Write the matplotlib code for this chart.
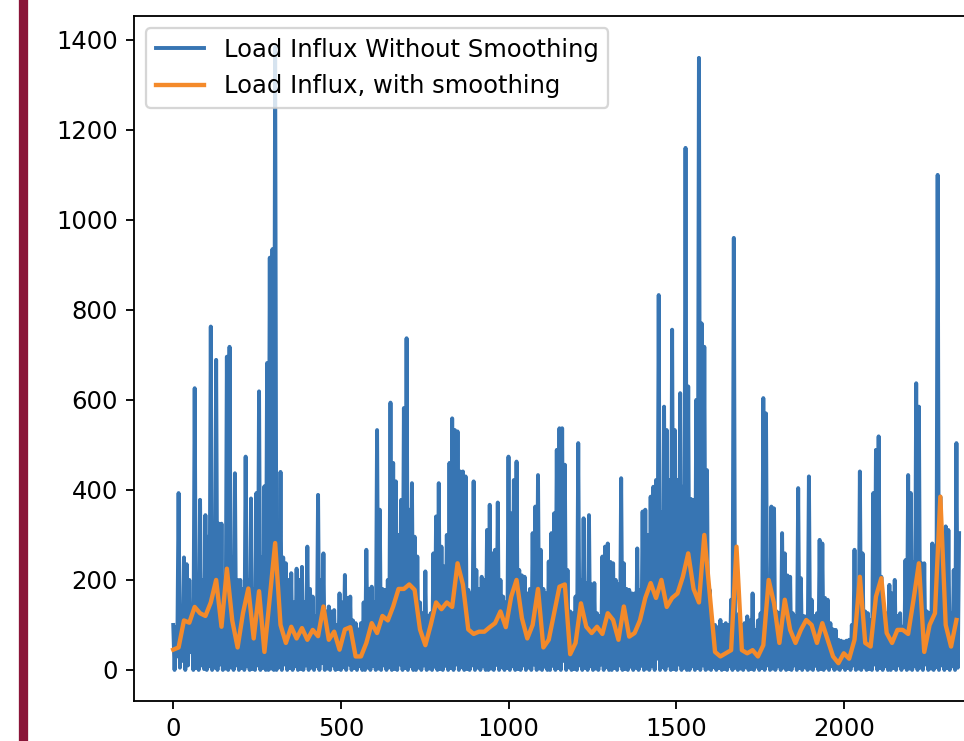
import numpy as np
import matplotlib.pyplot as plt
from matplotlib.patches import Rectangle

plt.rcParams['font.size'] = 10.6

# raw load influx: the signal jumps between a peak and a
# near-zero trough every few samples, so it is kept as two lists
raw_step = 4
raw_peaks = [  # every 8 samples, starting at 0
    100, 95, 393, 140, 250, 235, 200, 100, 626, 150, 378, 200, 344, 296, 763, 250, 689, 325, 325, 200, 696, 718, 250, 437, 200,
    200, 180, 474, 200, 381, 180, 393, 619, 250, 408, 682, 916, 935, 1384, 300, 440, 250, 237, 200, 215, 150, 225, 200, 229, 150,
    274, 180, 163, 120, 389, 200, 259, 130, 141, 130, 133, 100, 170, 150, 211, 160, 163, 110, 104, 90, 104, 150, 267, 180, 185,
    150, 533, 356, 180, 178, 200, 594, 460, 419, 300, 378, 582, 737, 356, 415, 296, 252, 150, 126, 219, 120, 126, 259, 341, 415,
    274, 230, 300, 460, 559, 533, 530, 441, 441, 430, 178, 170, 419, 222, 180, 207, 200, 311, 367, 259, 267, 372, 200, 163, 150,
    474, 348, 422, 463, 222, 210, 207, 170, 180, 304, 363, 433, 267, 180, 170, 241, 304, 348, 489, 537, 537, 456, 222, 130, 126,
    163, 504, 200, 337, 193, 344, 190, 193, 126, 120, 252, 274, 281, 240, 237, 200, 190, 426, 237, 180, 178, 170, 170, 270, 178,
    352, 356, 300, 385, 407, 422, 833, 350, 585, 533, 422, 756, 533, 422, 615, 407, 1160, 630, 380, 378, 600, 1360, 770, 718, 444,
    178, 100, 100, 95, 111, 100, 104, 100, 156, 960, 120, 126, 100, 104, 119, 110, 170, 89, 110, 126, 604, 570, 200, 363, 359,
    130, 126, 304, 259, 210, 207, 126, 120, 404, 204, 120, 119, 430, 156, 120, 126, 289, 281, 160, 156, 104, 90, 89, 67, 65,
    63, 65, 67, 100, 267, 126, 441, 259, 130, 126, 111, 393, 489, 519, 207, 130, 126, 189, 170, 200, 120, 126, 96, 244, 433,
    393, 240, 637, 585, 237, 237, 130, 126, 281, 274, 1100, 385, 200, 319, 311, 126, 222, 504, 304,
]
raw_troughs = [  # every 8 samples, starting at 4
    0, 30, 5, 20, 0, 10, 40, 0, 5, 0, 10, 2, 0, 8, 0, 5, 0, 12, 0, 3, 0, 6, 0, 10, 0,
    4, 0, 8, 0, 2, 0, 10, 0, 5, 0, 0, 3, 0, 0, 6, 0, 12, 0, 4, 0, 8, 0, 2, 0, 10,
    0, 5, 0, 8, 0, 15, 0, 3, 0, 10, 0, 2, 0, 6, 0, 12, 0, 4, 0, 8, 0, 0, 5, 0, 9,
    0, 3, 0, 10, 0, 6, 0, 2, 0, 12, 0, 4, 0, 8, 0, 0, 5, 0, 10, 0, 3, 0, 7, 0, 2,
    0, 9, 0, 4, 0, 12, 0, 6, 0, 2, 0, 10, 0, 5, 0, 8, 0, 0, 3, 0, 11, 0, 6, 0, 4,
    0, 8, 0, 2, 0, 10, 0, 5, 0, 12, 0, 3, 0, 7, 0, 0, 9, 0, 4, 0, 20, 0, 6, 0, 2,
    0, 10, 0, 5, 0, 8, 0, 3, 0, 12, 0, 6, 0, 0, 4, 0, 10, 0, 2, 0, 7, 0, 5, 0, 9,
    0, 3, 0, 8, 0, 25, 0, 6, 0, 10, 0, 2, 0, 12, 0, 5, 0, 0, 8, 0, 4, 0, 10, 0, 3,
    0, 6, 0, 4, 0, 2, 0, 8, 0, 5, 0, 3, 0, 6, 0, 2, 0, 7, 0, 4, 0, 10, 0, 3, 0,
    8, 0, 5, 0, 2, 0, 10, 0, 4, 0, 6, 0, 3, 0, 9, 0, 2, 0, 5, 0, 8, 0, 3, 0, 6,
    0, 4, 0, 10, 0, 3, 0, 7, 0, 2, 0, 12, 0, 5, 0, 8, 0, 0, 4, 0, 10, 0, 6, 0, 3,
    0, 8, 0, 5, 0, 12, 0, 3, 0, 6, 0, 10, 0, 4, 0, 8, 0, 5,
]

# smoothed load influx, one value every 16 samples
smooth_step = 16
smooth_load = [
    45, 50, 110, 105, 140, 126, 120, 150, 200, 96, 225, 110, 50, 126, 181, 70, 175, 40, 160, 282,
    100, 60, 96, 70, 93, 67, 89, 75, 141, 67, 85, 45, 90, 95, 30, 30, 60, 104, 82, 120,
    110, 141, 180, 180, 190, 178, 90, 55, 100, 150, 135, 150, 140, 237, 190, 90, 80, 85, 85, 95,
    104, 130, 95, 163, 200, 115, 70, 100, 180, 50, 67, 126, 185, 190, 35, 60, 148, 96, 82, 96,
    80, 126, 111, 67, 141, 74, 82, 110, 160, 193, 160, 200, 140, 160, 170, 207, 259, 180, 150, 300,
    170, 40, 30, 37, 44, 274, 44, 37, 44, 30, 55, 200, 148, 60, 156, 89, 60, 89, 111, 100,
    60, 104, 67, 30, 15, 37, 25, 67, 207, 60, 52, 163, 204, 82, 60, 89, 89, 80, 156, 237,
    40, 100, 126, 385, 100, 52, 111,
]

# peaks and troughs alternate
raw_load = np.empty(len(raw_peaks) + len(raw_troughs))
raw_load[0::2] = raw_peaks
raw_load[1::2] = raw_troughs
raw_x = np.arange(len(raw_load)) * raw_step
smooth_x = np.arange(len(smooth_load)) * smooth_step

fig = plt.figure(figsize=(964 / 165, 741 / 165), dpi=165)
# the screenshot is cropped: right part of the axes falls outside the image
ax = fig.add_axes([134 / 964, 40 / 741, 863 / 964, 685 / 741])

ax.plot(raw_x, raw_load, lw=1.7, color='#3775b3', label='Load Influx Without Smoothing')
ax.plot(smooth_x, smooth_load, lw=1.9, color='#f48a2a', label='Load Influx, with smoothing')
ax.set_xlim(-117, 2457)
ax.set_ylim(-69, 1453)
ax.legend(loc='upper left')

# maroon strip from the slide on the left
fig.patches.append(Rectangle((19.5 / 964, 0), 7.5 / 964, 1, transform=fig.transFigure,
                             color='#8a1538', zorder=5))

fig.savefig('out.png', dpi=165)
